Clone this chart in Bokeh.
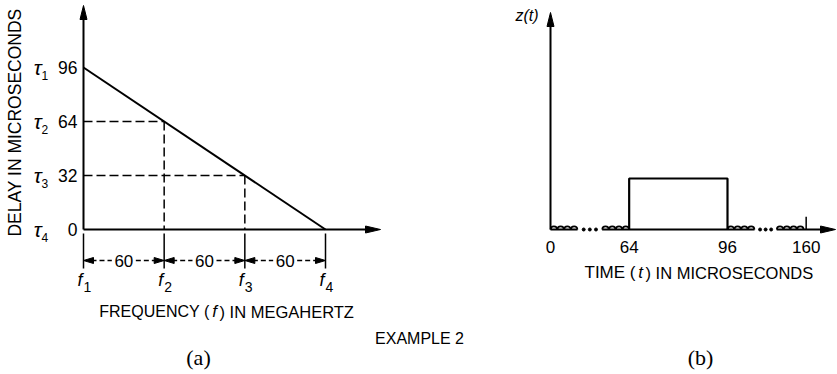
import numpy as np
from bokeh.plotting import figure
from bokeh.models import Range1d
from bokeh.embed import file_html
from bokeh.resources import INLINE
from bokeh.core.properties import value

W, H = 837, 374
SANS = value("Liberation Sans")
SERIF = value("Liberation Serif")

# ---- Panel (a): dispersive delay versus frequency ----
freq_marks = [0, 60, 120, 180]        # f1..f4 as MHz offsets from f1
freq_subs = ["1", "2", "3", "4"]
delay_marks = [96, 64, 32, 0]         # tau1..tau4 in microseconds
delay_subs = ["1", "2", "3", "4"]
spacing_text = "60"

# ---- Panel (b): compressed output pulse z(t) ----
time_ticks = [0, 64, 96, 160]
time_labels = ["0", "64", "96", "160"]
pulse_start, pulse_end = 64, 96
pulse_height = 1.0
ripple_spans = [(0, 22), (42, 64), (96, 118), (136, 158)]
humps_per_span = 4
gap_spans = [(22, 42), (118, 136)]
end_marker_t = 160
end_marker_h = 0.25

# the time axis is drawn with its quiet stretches squeezed
SQUEEZE = 0.4


def squeeze(t):
    t = np.asarray(t, dtype=float)
    a = pulse_start * SQUEEZE
    b = a + (pulse_end - pulse_start)
    return np.where(t <= pulse_start, t * SQUEEZE,
                    np.where(t <= pulse_end, a + (t - pulse_start),
                             b + (t - pulse_end) * SQUEEZE))


def x_range_for(v0, px0, v1, px1):
    s = (px1 - px0) / (v1 - v0)
    return Range1d(v0 - px0 / s, v0 + (W - px0) / s), s


def y_range_for(v0, py0, v1, py1):
    s = (py0 - py1) / (v1 - v0)
    return Range1d(v0 - (H - py0) / s, v0 + py0 / s), s


p = figure(width=W, height=H, x_range=Range1d(0, W), y_range=Range1d(H, 0),
           x_axis_type=None, y_axis_type=None, toolbar_location=None,
           output_backend="svg", min_border=0, outline_line_color=None,
           background_fill_color="white", border_fill_color="white")

fa_rng, sxa = x_range_for(0, 83, 180, 325)
da_rng, sya = y_range_for(0, 229, 96, 67)
tb_rng, sxb = x_range_for(0, 550, float(squeeze(pulse_end)), 727)
zb_rng, syb = y_range_for(0, 229, 1, 178)
p.extra_x_ranges = {"freq": fa_rng, "time": tb_rng}
p.extra_y_ranges = {"delay": da_rng, "amp": zb_rng}
A = dict(x_range_name="freq", y_range_name="delay")
B = dict(x_range_name="time", y_range_name="amp")


def head(tx, ty, dx, dy, sx, sy, length, width, rng):
    bx, by = tx - dx * length / sx, ty - dy * length / sy
    nx, ny = -dy, dx
    xs = [tx, bx + nx * width / 2 / sx, bx - nx * width / 2 / sx]
    ys = [ty, by + ny * width / 2 / sy, by - ny * width / 2 / sy]
    p.patch(xs, ys, fill_color="black", line_color="black", line_width=1, **rng)


# ---------------- Panel (a) ----------------
ytip = (229 - 5) / sya
xtip = (380 - 83) / sxa
p.line([0, 0], [0, ytip - 10 / sya], line_width=2, color="black", **A)
head(0, ytip, 0, 1, sxa, sya, 14, 7, A)
p.line([0, xtip - 10 / sxa], [0, 0], line_width=2, color="black", **A)
head(xtip, 0, 1, 0, sxa, sya, 15, 7, A)

# delay characteristic
p.line([freq_marks[0], freq_marks[-1]], [delay_marks[0], delay_marks[-1]],
       line_width=2, color="black", **A)

# dashed projections
for f, d in zip(freq_marks[1:3], delay_marks[1:3]):
    p.line([0, f], [d, d], line_width=1.5, color="black", line_dash="9 4", **A)
    p.line([f, f], [d, 0], line_width=1.5, color="black", line_dash="9 4", **A)

# extension lines and spacing dimensions
ext_top, ext_bot = -4 / sya, -39 / sya
for f in freq_marks:
    p.line([f, f], [ext_top, ext_bot], line_width=1.5, color="black", **A)
dim_y = -31 / sya
for a, b in zip(freq_marks[:-1], freq_marks[1:]):
    mid = (a + b) / 2
    gap = 12 / sxa
    p.line([a + 8 / sxa, mid - gap], [dim_y, dim_y], line_width=1.5,
           color="black", line_dash="5 3", **A)
    p.line([mid + gap, b - 8 / sxa], [dim_y, dim_y], line_width=1.5,
           color="black", line_dash="5 3", **A)
    head(a, dim_y, -1, 0, sxa, sya, 10, 6, A)
    head(b, dim_y, 1, 0, sxa, sya, 10, 6, A)
    p.text([mid], [dim_y], text=[spacing_text], text_align="center",
           text_baseline="middle", text_font=SANS, text_font_size="17px", **A)

# delay values and tau labels
p.text([0] * 4, delay_marks, text=[str(d) for d in delay_marks], x_offset=-6,
       text_align="right", text_baseline="middle", text_font=SANS,
       text_font_size="17.5px", **A)
p.text([0] * 4, delay_marks, text=["\u03c4"] * 4, x_offset=-42,
       text_align="right", text_baseline="middle", text_font=SANS,
       text_font_style="italic", text_font_size="21px", **A)
p.text([0] * 4, delay_marks, text=delay_subs, x_offset=-42, y_offset=8,
       text_align="left", text_baseline="middle", text_font=SANS,
       text_font_size="12px", **A)

# frequency labels
flab_y = -50 / sya
p.text(freq_marks, [flab_y] * 4, text=["f"] * 4, x_offset=-1,
       text_align="right", text_baseline="middle", text_font=SANS,
       text_font_style="italic", text_font_size="18px", **A)
p.text(freq_marks, [flab_y] * 4, text=freq_subs, x_offset=0, y_offset=7,
       text_align="left", text_baseline="middle", text_font=SANS,
       text_font_size="14px", **A)

# axis titles for panel (a)
p.text([14], [122], text=["DELAY IN MICROSECONDS"], angle=np.pi / 2,
       text_align="center", text_baseline="middle", text_font=SANS,
       text_font_size="17.5px")
p.text([209], [311], text=["FREQUENCY ("], text_align="right",
       text_baseline="middle", text_font=SANS, text_font_size="16px")
p.text([214], [311], text=["f"], text_align="center", text_baseline="middle",
       text_font=SANS, text_font_style="italic", text_font_size="17px")
p.text([219], [311], text=[") IN MEGAHERTZ"], text_align="left",
       text_baseline="middle", text_font=SANS, text_font_size="16.5px")

# ---------------- Panel (b) ----------------
ytip_b = (229 - 12) / syb
xtip_b = (835 - 550) / sxb
p.line([0, 0], [0, ytip_b - 10 / syb], line_width=2, color="black", **B)
head(0, ytip_b, 0, 1, sxb, syb, 14, 7, B)

# baseline, broken where the ripple trails off
base_segments = [(0, gap_spans[0][0]), (gap_spans[0][1], gap_spans[1][0])]
for s, e in base_segments:
    p.line(squeeze([s, e]), [0, 0], line_width=2, color="black", **B)
p.line([float(squeeze(gap_spans[1][1])), xtip_b - 10 / sxb], [0, 0],
       line_width=2, color="black", **B)
head(xtip_b, 0, 1, 0, sxb, syb, 15, 7, B)

# compressed pulse
p.line(squeeze([pulse_start, pulse_start, pulse_end, pulse_end]),
       [0, pulse_height, pulse_height, 0], line_width=2.2, color="black", **B)

# ripple humps and gap dots
centers = []
for s, e in ripple_spans:
    step = (e - s) / humps_per_span
    centers += [s + (i + 0.5) * step for i in range(humps_per_span)]
p.arc(squeeze(centers), [0] * len(centers), radius=3.2, radius_units="screen",
      start_angle=0, end_angle=np.pi, line_width=1.8, color="black", **B)
dots = []
for s, e in gap_spans:
    dots += [s + (e - s) * k / 4 for k in (1, 2, 3)]
p.scatter(squeeze(dots), [0] * len(dots), size=3, color="black", **B)
p.line(squeeze([end_marker_t, end_marker_t]), [0, end_marker_h],
       line_width=1.5, color="black", **B)

# time tick labels
p.text(squeeze(time_ticks), [-17 / syb] * 4, text=time_labels,
       text_align="center", text_baseline="middle", text_font=SANS,
       text_font_size="17px", **B)

# axis titles for panel (b)
p.text([538], [15], text=["z(t)"], text_align="right", text_baseline="middle",
       text_font=SANS, text_font_style="italic", text_font_size="16px")
p.text([635], [272], text=["TIME ("], text_align="right",
       text_baseline="middle", text_font=SANS, text_font_size="17px")
p.text([640], [272], text=["t"], text_align="center", text_baseline="middle",
       text_font=SANS, text_font_style="italic", text_font_size="17px")
p.text([645], [272], text=[") IN MICROSECONDS"], text_align="left",
       text_baseline="middle", text_font=SANS, text_font_size="16.5px")

# captions
p.text([419], [338], text=["EXAMPLE 2"], text_align="center",
       text_baseline="middle", text_font=SANS, text_font_size="16px")
p.text([198, 700], [357, 357], text=["(a)", "(b)"], text_align="center",
       text_baseline="middle", text_font=SERIF, text_font_size="22px")

open("out.html", "w").write(file_html(p, INLINE))
